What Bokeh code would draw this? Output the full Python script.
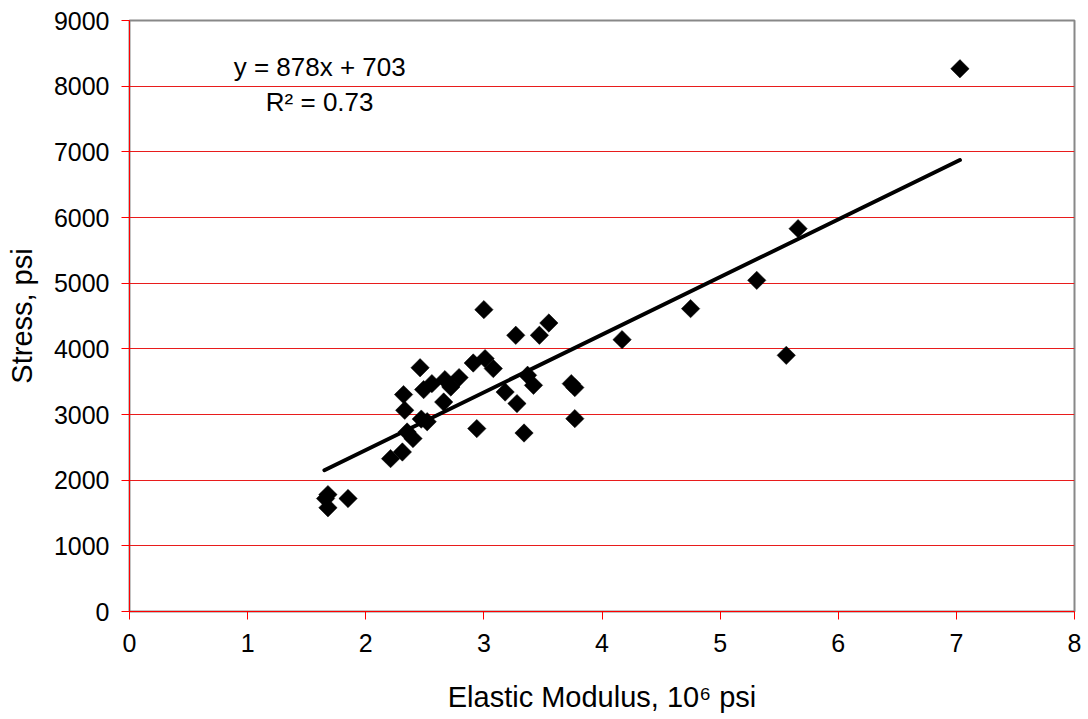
import math
from bokeh.plotting import figure
from bokeh.models import Range1d, FixedTicker, ColumnDataSource
from bokeh.core.properties import value
from bokeh.embed import file_html
from bokeh.resources import INLINE

# ---- data ----
modulus = [7.03, 5.66, 5.31, 5.56, 4.75, 4.17, 3.55, 3.47, 3.27, 3.00,
           2.46, 2.91, 3.01, 3.08, 2.49, 2.56, 2.67, 2.79, 2.72, 2.32,
           2.33, 2.66, 2.47, 2.52, 2.94, 2.35, 2.40, 2.31, 2.21, 3.37,
           3.42, 3.18, 3.28, 3.74, 3.77, 3.77, 3.34, 1.66, 1.68, 1.68, 1.85]
stress = [8265, 5830, 5043, 3901, 4612, 4140, 4393, 4206, 4206, 4597,
          3712, 3784, 3851, 3699, 3379, 3470, 3531, 3562, 3419, 3303,
          3064, 3190, 2930, 2890, 2785, 2733, 2633, 2429, 2328, 3597,
          3444, 3342, 3166, 3470, 3410, 2937, 2718, 1720, 1780, 1580, 1720]
slope = 878
intercept = 703
eq_text = "y = 878x + 703"
r2_text = "R\u00b2 = 0.73"
x_ticks = [0, 1, 2, 3, 4, 5, 6, 7, 8]
y_ticks = [0, 1000, 2000, 3000, 4000, 5000, 6000, 7000, 8000, 9000]
x_title = "Elastic Modulus, 10\u2076 psi"
y_title = "Stress, psi"

FONT = "Liberation Sans"

p = figure(width=1088, height=719, output_backend="svg", toolbar_location=None,
           x_range=Range1d(0, 8), y_range=Range1d(0, 9000),
           min_border_left=129, min_border_right=14, min_border_top=20,
           min_border_bottom=108, background_fill_color="white",
           border_fill_color="white")

p.outline_line_color = "#888888"
p.outline_line_width = 2

p.xgrid.visible = False
p.ygrid.grid_line_color = "#E81C1C"
p.ygrid.grid_line_width = 1

p.xaxis.ticker = FixedTicker(ticks=x_ticks)
p.yaxis.ticker = FixedTicker(ticks=y_ticks)
for ax in (p.xaxis, p.yaxis):
    ax.axis_line_color = "#FF0000"
    ax.axis_line_width = 1
    ax.major_tick_line_color = "#FF0000"
    ax.major_tick_out = 8
    ax.major_tick_in = 0
    ax.minor_tick_line_color = None
    ax.major_label_text_font = FONT
    ax.major_label_text_font_size = "25px"
    ax.major_label_text_color = "black"
    ax.axis_label_text_font = FONT
    ax.axis_label_text_font_size = "29px"
    ax.axis_label_text_font_style = "normal"
    ax.axis_label_text_color = "black"

p.xaxis.major_label_standoff = 14
p.yaxis.major_label_standoff = 12
p.xaxis.axis_label = x_title
p.yaxis.axis_label = y_title
p.xaxis.axis_label_standoff = 26
p.yaxis.axis_label_standoff = 13

src = ColumnDataSource(dict(x=modulus, y=stress))
p.scatter("x", "y", source=src, marker="square", size=13, angle=math.pi / 4,
          fill_color="black", line_color="black", line_width=0.5)

x_fit = [min(modulus) - 0.01, max(modulus)]
y_fit = [slope * v + intercept for v in x_fit]
p.line(x_fit, y_fit, line_color="black", line_width=4, line_cap="round")

p.text(x=[1.61, 1.61], y=[8290, 7757], text=[eq_text, r2_text],
       text_font=value(FONT), text_font_size="26px", text_color="black",
       text_align="center", text_baseline="middle")

open("out.html", "w").write(file_html(p, INLINE))
